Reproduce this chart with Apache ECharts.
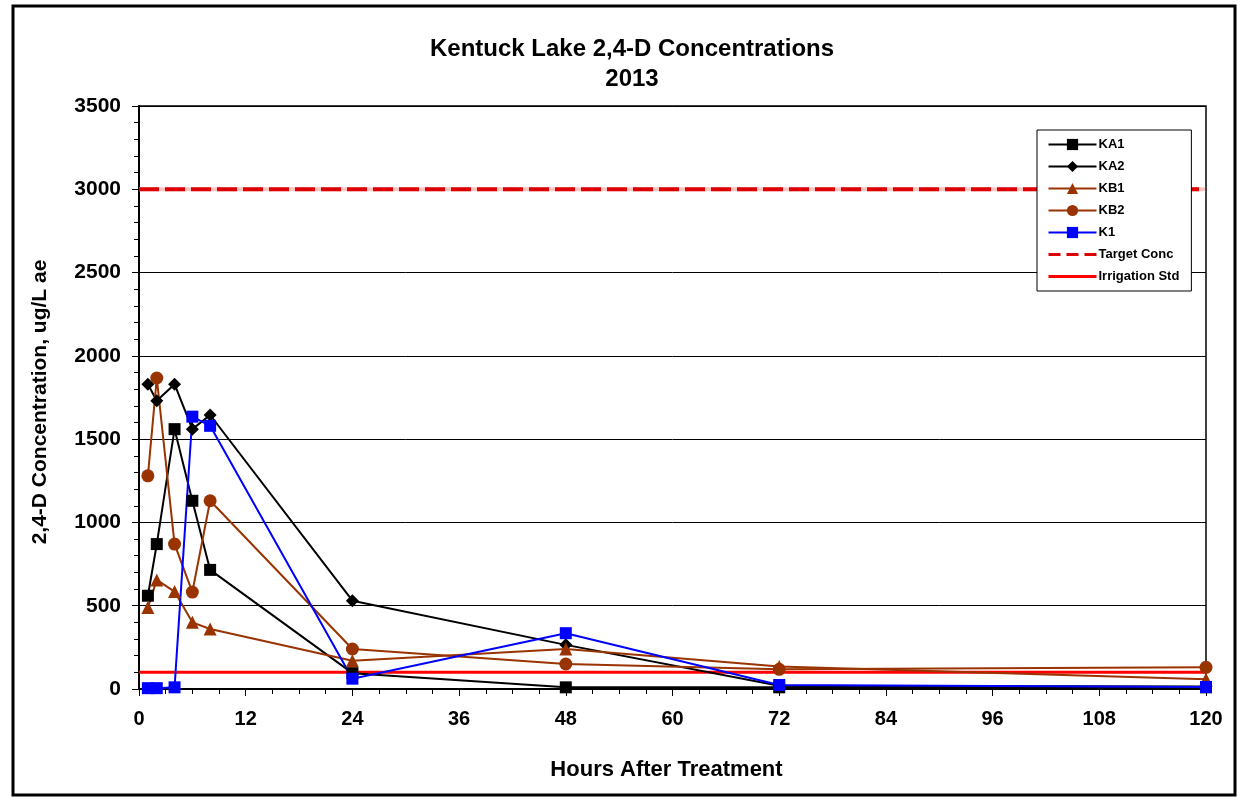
<!DOCTYPE html>
<html>
<head>
<meta charset="utf-8">
<script src="https://cdn.jsdelivr.net/npm/echarts@6/dist/echarts.min.js"></script>
<style>html,body{margin:0;padding:0;background:#fff;}#c{width:1243px;height:803px;}</style>
</head>
<body>
<div id="c"></div>
<script>
const hours = [1, 2, 4, 6, 8, 24, 48, 72, 120];
const KA1 = [560, 870, 1560, 1130, 715, 95, 10, 10, 10];
const KA2 = [1830, 1730, 1830, 1560, 1645, 530, 265, 20, 15];
const KB1 = [490, 655, 585, 400, 360, 170, 240, 135, 58];
const KB2 = [1280, 1867, 870, 582, 1130, 240, 150, 118, 130];
const K1 = [5, 5, 10, 1635, 1580, 62, 335, 24, 12];
const targetConc = 3000;
const irrigationStd = 100;
const xTicks = {min: 0, max: 120, interval: 12};
const yTicks = {min: 0, max: 3500, interval: 500};

function pairs(vals) { return hours.map((h, i) => [h, vals[i]]); }

const chart = echarts.init(document.getElementById('c'), null, {renderer: 'canvas'});
const FONT = 'Liberation Sans, Arial, sans-serif';
const brown = '#993300';

function dataSeries(name, vals, color, symbol, size) {
  return {
    name: name, type: 'line', data: pairs(vals),
    symbol: symbol, symbolSize: size,
    lineStyle: {color: color, width: 2},
    itemStyle: {color: color},
    z: 5
  };
}

chart.setOption({
  animation: false,
  backgroundColor: '#fff',
  title: {
    text: 'Kentuck Lake 2,4-D Concentrations\n2013',
    left: 627, top: 29, textAlign: 'center',
    textStyle: {fontFamily: FONT, fontWeight: 'bold', fontSize: 24, lineHeight: 30, color: '#000'}
  },
  grid: {left: 139, right: 37, top: 106, bottom: 114, show: true, borderColor: '#000', borderWidth: 1.5, backgroundColor: '#fff'},
  legend: {
    orient: 'vertical', left: 1037, top: 130,
    data: [
      {name: 'KA1'}, {name: 'KA2'}, {name: 'KB1'}, {name: 'KB2'}, {name: 'K1'},
      {name: 'Target Conc', itemStyle: {opacity: 0}, lineStyle: {color: '#dd0000', width: 3, type: [12, 6], opacity: 1}},
      {name: 'Irrigation Std', itemStyle: {opacity: 0}, lineStyle: {color: '#ff0000', width: 3, opacity: 1}}
    ],
    backgroundColor: '#fff', borderColor: '#000', borderWidth: 1,
    padding: [8, 12, 8, 10], itemGap: 9, itemWidth: 48, itemHeight: 14,
    textStyle: {fontFamily: FONT, fontWeight: 'bold', fontSize: 13, color: '#000', padding: [0, 0, 0, -3]}
  },
  xAxis: {
    type: 'value', min: xTicks.min, max: xTicks.max, interval: xTicks.interval,
    name: 'Hours After Treatment', nameLocation: 'middle', nameGap: 70,
    nameTextStyle: {fontFamily: FONT, fontWeight: 'bold', fontSize: 22, color: '#000', padding: [0, 12, 0, 0]},
    axisLine: {show: true, onZero: false, lineStyle: {color: '#000', width: 2}},
    axisTick: {show: true, inside: false, length: 7, lineStyle: {color: '#000', width: 1}},
    minorTick: {show: true, splitNumber: 4, length: 5, lineStyle: {color: '#000', width: 1}},
    axisLabel: {fontFamily: FONT, fontWeight: 'bold', fontSize: 20, color: '#000', margin: 20},
    splitLine: {show: false}
  },
  yAxis: {
    type: 'value', min: yTicks.min, max: yTicks.max, interval: yTicks.interval,
    axisLine: {show: true, lineStyle: {color: '#000', width: 2}},
    axisTick: {show: true, inside: false, length: 7, lineStyle: {color: '#000', width: 1}},
    minorTick: {show: true, splitNumber: 5, length: 5, lineStyle: {color: '#000', width: 1}},
    axisLabel: {fontFamily: FONT, fontWeight: 'bold', fontSize: 21, color: '#000', margin: 18, formatter: v => String(v)},
    splitLine: {show: true, lineStyle: {color: '#000', width: 1}}
  },
  graphic: [
    {type: 'rect', shape: {x: 13, y: 6, width: 1222, height: 789}, style: {fill: null, stroke: '#000', lineWidth: 3}, z: 100},
    {type: 'text', x: 40, y: 402, rotation: Math.PI / 2,
     style: {text: '2,4-D Concentration, ug/L ae', fontFamily: FONT, fontWeight: 'bold', fontSize: 21, fill: '#000', align: 'center', verticalAlign: 'middle'}}
  ],
  series: [
    {name: 'Target Underlay', type: 'line', data: [[xTicks.min, targetConc], [xTicks.max, targetConc]], symbol: 'none',
     lineStyle: {color: '#ffc4c4', width: 4}, z: 2, silent: true},
    {name: 'Target Conc', type: 'line', data: [[xTicks.min, targetConc], [xTicks.max, targetConc]], symbol: 'none',
     lineStyle: {color: '#dd0000', width: 4, type: [20, 6]}, itemStyle: {color: '#dd0000'}, z: 3},
    {name: 'Irrigation Std', type: 'line', data: [[xTicks.min, irrigationStd], [xTicks.max, irrigationStd]], symbol: 'none',
     lineStyle: {color: '#ff0000', width: 3}, itemStyle: {color: '#ff0000'}, z: 3},
    dataSeries('KA1', KA1, '#000000', 'rect', 12),
    dataSeries('KA2', KA2, '#000000', 'diamond', 13),
    dataSeries('KB1', KB1, brown, 'triangle', 13),
    dataSeries('KB2', KB2, brown, 'circle', 13),
    dataSeries('K1', K1, '#0000ff', 'rect', 12)
  ]
});
</script>
</body>
</html>
